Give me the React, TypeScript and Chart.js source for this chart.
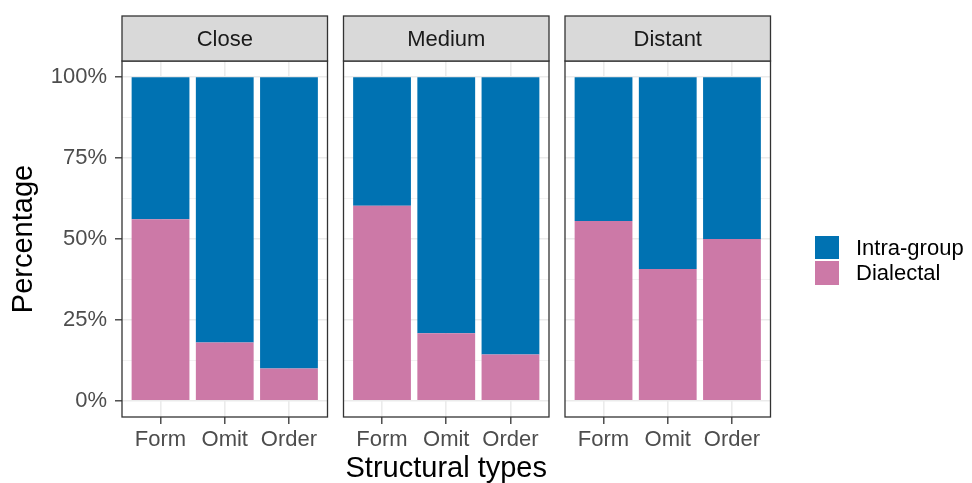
import React, { useEffect, useRef } from "react";
import { Chart, registerables } from "chart.js";

Chart.register(...registerables);

// ---- data ----
const panelNames = ["Close", "Medium", "Distant"];
const categories = ["Form", "Omit", "Order"];
const categoryPositions = [1, 2, 3];
const seriesNames = ["Dialectal", "Intra-group"];

const dialectalClose = [0.561, 0.18, 0.1];
const intraClose = [0.439, 0.82, 0.9];
const dialectalMedium = [0.603, 0.209, 0.143];
const intraMedium = [0.397, 0.791, 0.857];
const dialectalDistant = [0.556, 0.407, 0.5];
const intraDistant = [0.444, 0.593, 0.5];

const yTickValues = [0, 0.25, 0.5, 0.75, 1];
const yTickLabels = ["0%", "25%", "50%", "75%", "100%"];
const yMinorValues = [0.125, 0.375, 0.625, 0.875];

const dialectalByPanel = [dialectalClose, dialectalMedium, dialectalDistant];
const intraByPanel = [intraClose, intraMedium, intraDistant];

// ---- style / layout ----
const W = 972;
const H = 483;
const FONT = '"Liberation Sans", Arial, Helvetica, sans-serif';
const BLUE = "#0072B2";
const PINK = "#CC79A7";
const PANEL_LEFT = [122, 343.5, 565];
const PANEL_RIGHT = [327.5, 549, 770.5];
const PANEL_TOP = 61;
const PANEL_BOTTOM = 417;
const STRIP_TOP = 16;

const stripPlugin = {
  id: "facetStrip",
  afterDatasetsDraw(chart: any, _args: any, opts: any) {
    const { ctx, chartArea } = chart;
    const { left, right, top, bottom } = chartArea;
    ctx.save();
    // panel border
    ctx.strokeStyle = "#333333";
    ctx.lineWidth = 1.3;
    ctx.strokeRect(left, top, right - left, bottom - top);
    // strip
    ctx.fillStyle = "#D9D9D9";
    ctx.fillRect(left, STRIP_TOP, right - left, top - STRIP_TOP);
    ctx.strokeRect(left, STRIP_TOP, right - left, top - STRIP_TOP);
    ctx.fillStyle = "#1A1A1A";
    ctx.font = `22px ${FONT}`;
    ctx.textAlign = "center";
    ctx.textBaseline = "middle";
    ctx.fillText(opts.text, (left + right) / 2, (STRIP_TOP + top) / 2 + 1);
    ctx.restore();
  },
};

function makeChart(canvas: HTMLCanvasElement, i: number) {
  const first = i === 0;
  const middle = i === 1;
  const isMajor = (v: number) => yTickValues.indexOf(v) >= 0;
  return new Chart(canvas, {
    type: "bar",
    data: {
      datasets: [
        {
          label: seriesNames[0],
          data: categoryPositions.map((x, k) => ({ x, y: dialectalByPanel[i][k] })),
          backgroundColor: PINK,
          borderWidth: 0,
          categoryPercentage: 1,
          barPercentage: 0.9,
        },
        {
          label: seriesNames[1],
          data: categoryPositions.map((x, k) => ({ x, y: intraByPanel[i][k] })),
          backgroundColor: BLUE,
          borderWidth: 0,
          categoryPercentage: 1,
          barPercentage: 0.9,
        },
      ],
    } as any,
    options: {
      responsive: false,
      animation: false,
      layout: {
        padding: {
          left: first ? 0 : PANEL_LEFT[i],
          right: W - PANEL_RIGHT[i],
          top: PANEL_TOP,
          bottom: 0,
        },
      },
      plugins: {
        legend: { display: false },
        tooltip: { enabled: false },
        facetStrip: { text: panelNames[i] },
      } as any,
      scales: {
        x: {
          type: "linear",
          min: 0.4,
          max: 3.6,
          stacked: true,
          offset: false,
          afterBuildTicks: (s: any) => {
            s.ticks = categoryPositions.map((v) => ({ value: v }));
          },
          afterFit: (s: any) => {
            s.height = H - PANEL_BOTTOM;
          },
          ticks: {
            autoSkip: false,
            maxRotation: 0,
            padding: 3,
            color: "#4D4D4D",
            font: { family: FONT, size: 22 },
            callback: (v: any) => {
              const k = categoryPositions.indexOf(Number(v));
              return k >= 0 ? categories[k] : "";
            },
          },
          grid: {
            offset: false,
            color: "#EBEBEB",
            lineWidth: 1.6,
            drawTicks: true,
            tickLength: 7,
            tickColor: "#333333",
            tickWidth: 1.3,
          },
          border: { display: false },
          title: {
            display: middle,
            text: "Structural types",
            color: "#000000",
            font: { family: FONT, size: 29 },
            padding: { top: 0, bottom: -3 },
          },
        },
        y: {
          type: "linear",
          min: -0.05,
          max: 1.05,
          stacked: true,
          afterBuildTicks: (s: any) => {
            s.ticks = [...yTickValues, ...yMinorValues]
              .sort((a, b) => a - b)
              .map((v) => ({ value: v }));
          },
          afterFit: (s: any) => {
            s.width = first ? PANEL_LEFT[0] : 0;
          },
          ticks: {
            display: first,
            autoSkip: false,
            padding: 8,
            color: "#4D4D4D",
            font: { family: FONT, size: 22 },
            callback: (v: any) => {
              const k = yTickValues.indexOf(Number(v));
              return k >= 0 ? yTickLabels[k] : "";
            },
          },
          grid: {
            color: (c: any) => (isMajor(c.tick?.value) ? "#EBEBEB" : "#F1F1F1"),
            lineWidth: (c: any) => (isMajor(c.tick?.value) ? 1.6 : 0.9),
            drawTicks: first,
            tickLength: 7,
            tickColor: (c: any) => (isMajor(c.tick?.value) ? "#333333" : "rgba(0,0,0,0)"),
            tickWidth: 1.3,
          },
          border: { display: false },
          title: {
            display: first,
            text: "Percentage",
            color: "#000000",
            font: { family: FONT, size: 29 },
            padding: { top: 6.4, bottom: 0 },
          },
        },
      } as any,
    },
    plugins: [stripPlugin as any],
  });
}

function Panel({ index }: { index: number }) {
  const ref = useRef<HTMLCanvasElement | null>(null);
  useEffect(() => {
    if (!ref.current) return;
    const chart = makeChart(ref.current, index);
    return () => chart.destroy();
  }, [index]);
  return (
    <canvas
      ref={ref}
      width={W}
      height={H}
      style={{ position: "absolute", left: 0, top: 0, width: W, height: H }}
    />
  );
}

const legendItems = [
  { label: seriesNames[1], color: BLUE },
  { label: seriesNames[0], color: PINK },
];

export default function App() {
  return (
    <div
      style={{
        position: "absolute",
        left: 0,
        top: 0,
        width: W,
        height: H,
        background: "#FFFFFF",
        overflow: "hidden",
        fontFamily: FONT,
      }}
    >
      {panelNames.map((_, i) => (
        <Panel key={i} index={i} />
      ))}
      {legendItems.map((it, k) => (
        <div key={it.label}>
          <div
            style={{
              position: "absolute",
              left: 815,
              top: 235.5 + k * 25.5,
              width: 24,
              height: 23.5,
              background: it.color,
            }}
          />
          <div
            style={{
              position: "absolute",
              left: 856,
              top: 235.5 + k * 25.5 - 1,
              height: 25,
              lineHeight: "25px",
              fontSize: 22,
              color: "#000000",
              whiteSpace: "nowrap",
            }}
          >
            {it.label}
          </div>
        </div>
      ))}
    </div>
  );
}
